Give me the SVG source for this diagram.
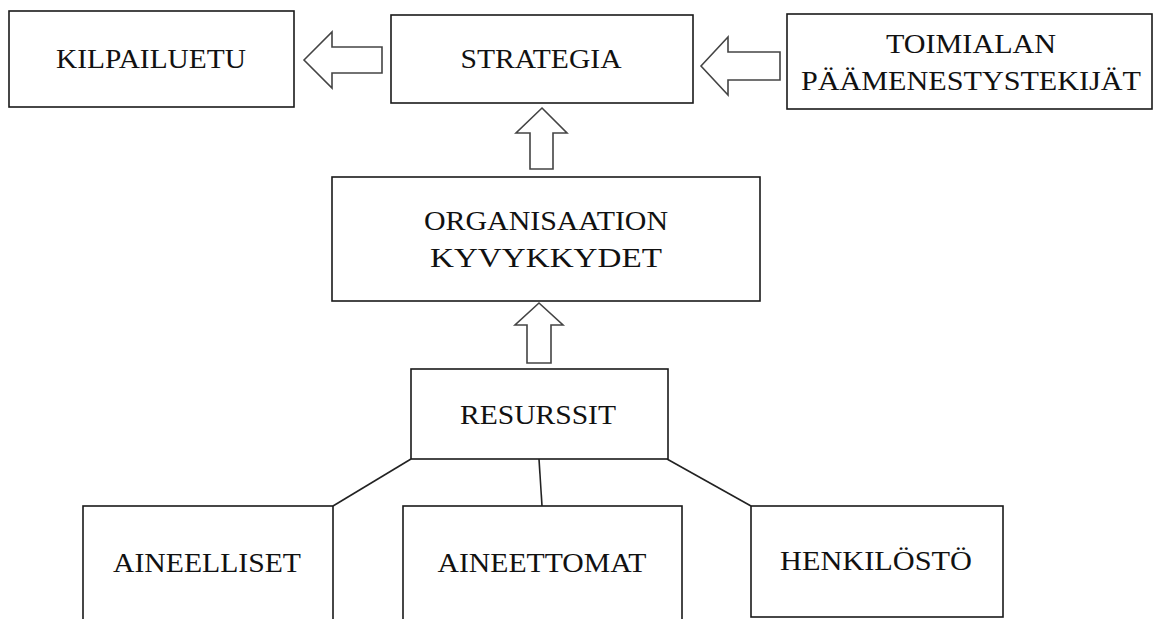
<svg xmlns="http://www.w3.org/2000/svg" width="1157" height="619" viewBox="0 0 1157 619">
<style>
.box{fill:#fff;stroke:#1a1a1a;stroke-width:1.6}
.arrow{fill:#fff;stroke:#444;stroke-width:1.6;stroke-linejoin:miter}
.line{fill:none;stroke:#222;stroke-width:1.6}
.t{font-family:"Liberation Serif","Times New Roman",serif;font-size:28px;fill:#111;text-anchor:middle}
</style>
<rect width="1157" height="619" fill="#fff"/>
<g id="kilpailuetu">
<rect class="box" x="9" y="11" width="285" height="96"/>
<text class="t" x="151" y="68" textLength="190" lengthAdjust="spacingAndGlyphs">KILPAILUETU</text>
</g>
<g id="strategia">
<rect class="box" x="391" y="15" width="302" height="88"/>
<text class="t" x="541" y="68" textLength="161" lengthAdjust="spacingAndGlyphs">STRATEGIA</text>
</g>
<g id="toimialan">
<rect class="box" x="787" y="14" width="365" height="95"/>
<text class="t" x="971" y="53" textLength="170" lengthAdjust="spacingAndGlyphs">TOIMIALAN</text>
<text class="t" x="971" y="90" textLength="340" lengthAdjust="spacingAndGlyphs">PÄÄMENESTYSTEKIJÄT</text>
</g>
<g id="organisaation">
<rect class="box" x="332" y="177" width="428" height="124"/>
<text class="t" x="546" y="230" textLength="244" lengthAdjust="spacingAndGlyphs">ORGANISAATION</text>
<text class="t" x="546" y="267" textLength="232" lengthAdjust="spacingAndGlyphs">KYVYKKYDET</text>
</g>
<g id="resurssit">
<rect class="box" x="411" y="369" width="257" height="90"/>
<text class="t" x="538" y="424" textLength="156" lengthAdjust="spacingAndGlyphs">RESURSSIT</text>
</g>
<g id="aineelliset">
<rect class="box" x="83" y="506" width="250" height="130"/>
<text class="t" x="207" y="572" textLength="188" lengthAdjust="spacingAndGlyphs">AINEELLISET</text>
</g>
<g id="aineettomat">
<rect class="box" x="403" y="506" width="279" height="130"/>
<text class="t" x="542" y="572" textLength="209" lengthAdjust="spacingAndGlyphs">AINEETTOMAT</text>
</g>
<g id="henkilosto">
<rect class="box" x="751" y="506" width="252" height="111"/>
<text class="t" x="876" y="570" textLength="192" lengthAdjust="spacingAndGlyphs">HENKILÖSTÖ</text>
</g>
<g id="connectors">
<polygon class="arrow" points="304,60 332,32 332,47 382,47 382,73 332,73 332,88"/>
<polygon class="arrow" points="701,66 728,37 728,52 780,52 780,80 728,80 728,95"/>
<polygon class="arrow" points="542,108 567,133 553,133 553,169 530,169 530,133 516,133"/>
<polygon class="arrow" points="539,303 563,325 551,325 551,363 527,363 527,325 515,325"/>
<line class="line" x1="411" y1="459" x2="333" y2="506"/>
<line class="line" x1="539" y1="459" x2="542" y2="506"/>
<line class="line" x1="667" y1="459" x2="751" y2="506"/>
</g>
</svg>
